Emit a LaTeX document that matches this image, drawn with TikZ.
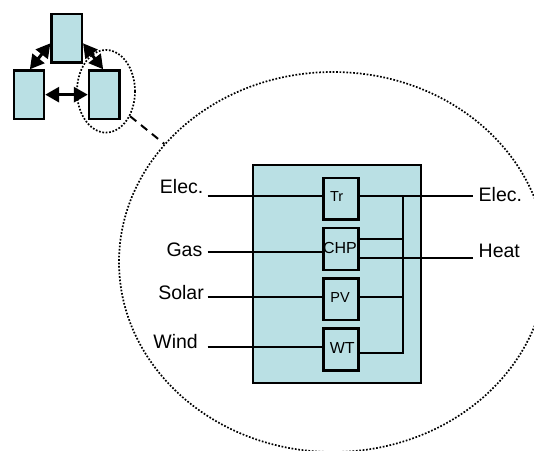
\documentclass[tikz,border=0pt]{standalone}
\usepackage{fontspec}
\setmainfont{Liberation Sans}
\usetikzlibrary{arrows.meta,shapes.geometric,calc}
\definecolor{boxfill}{RGB}{186,224,228}
\begin{document}
\begin{tikzpicture}[x=1pt,y=-1pt,
  unitbox/.style={draw=black,line width=2.2pt,fill=boxfill,minimum width=35pt,minimum height=42pt,inner sep=0pt},
  smallbox/.style={draw=black,line width=2.2pt,fill=boxfill,inner sep=0pt,minimum width=30.5pt,minimum height=48.5pt},
  wire/.style={line width=1.8pt},
  lbl/.style={inner sep=0pt,font=\fontsize{19.5}{21}\selectfont},
  ulbl/.style={inner sep=0pt,anchor=base,font=\fontsize{14.5}{16}\selectfont},
  biarrow/.style={line width=3pt,{Triangle[length=14pt,width=15pt]}-{Triangle[length=14pt,width=15pt]}},
  ring/.style={draw=black,ellipse,dash pattern=on 1.7pt off 1.7pt,line width=1.7pt,inner sep=0pt},
  link/.style={line width=2pt,dash pattern=on 8pt off 6pt}]
\useasboundingbox (0,0) rectangle (534,450);
\clip (0,0) rectangle (534,450);

% big ring and hub
\node[ring,minimum width=428pt,minimum height=380pt] (bigring) at (333,262) {};
\node[draw=black,line width=2.2pt,fill=boxfill,inner sep=0pt,minimum width=168pt,minimum height=218.3pt] (hub) at (336.7,274.15) {};

% top-left system
\node[smallbox] (top) at (66.7,38.3) {};
\node[smallbox] (left) at (28.85,94.65) {};
\node[smallbox] (right) at (104.15,94.65) {};
\draw[biarrow] ($(top.west)+(0,5)$) -- ($(left.north)+(1,0)$);
\draw[biarrow] ($(top.east)+(0,5)$) -- ($(right.north)+(-1,0)$);
\draw[biarrow] (left.east) -- (right.west);
\node[ring,minimum width=58pt,minimum height=82.6pt] (zoomring) at (106,91.3) {};
\draw[link] (zoomring.-46.7) -- (bigring.145);

% units
\node[unitbox,minimum height=41.5pt] (tr) at (341,198.75) {};
\node[unitbox] (chp) at (341,249) {};
\node[unitbox,minimum height=41.5pt] (pv) at (341,299.25) {};
\node[unitbox] (wt) at (341,349.5) {};
\node[ulbl] (trl) at (336.7,201.3) {Tr};
\node[ulbl,font=\fontsize{16}{18}\selectfont] (chpl) at (340,253) {CHP};
\node[ulbl] (pvl) at (340,302) {PV};
\node[ulbl,font=\fontsize{16}{18}\selectfont] (wtl) at (342.3,353.7) {WT};

% labels
\node[lbl,anchor=base east] (inElec) at (203.5,193.3) {Elec.};
\node[lbl,anchor=base east] (inGas) at (202.5,256) {Gas};
\node[lbl,anchor=base east] (inSolar) at (204,299.3) {Solar};
\node[lbl,anchor=base east] (inWind) at (198,348.3) {Wind};
\node[lbl,anchor=base west] (outElec) at (478.5,201.7) {Elec.};
\node[lbl,anchor=base west] (outHeat) at (478.5,257.3) {Heat};

% wires
\coordinate (lin1) at (207.7,196);
\coordinate (lin2) at (207.7,252);
\coordinate (lin3) at (207.7,297);
\coordinate (lin4) at (207.7,347);
\coordinate (bustop) at (403.3,196);
\coordinate (busbot) at (403.3,352.7);
\coordinate (chpE) at (403.3,239);
\coordinate (pvE) at (403.3,297);
\coordinate (outE) at (472.7,196);
\coordinate (outH) at (472.7,258);
\draw[wire] (lin1) -- (lin1 -| tr.west);
\draw[wire] (lin2) -- (lin2 -| chp.west);
\draw[wire] (lin3) -- (lin3 -| pv.west);
\draw[wire] (lin4) -- (lin4 -| wt.west);
\draw[wire] (bustop -| tr.east) -- (outE);
\draw[wire,line join=miter] (bustop) -- (busbot) -- (busbot -| wt.east);
\draw[wire] (chpE -| chp.east) -- (chpE);
\draw[wire] (pvE -| pv.east) -- (pvE);
\draw[wire] (outH -| chp.east) -- (outH);
\end{tikzpicture}
\end{document}
